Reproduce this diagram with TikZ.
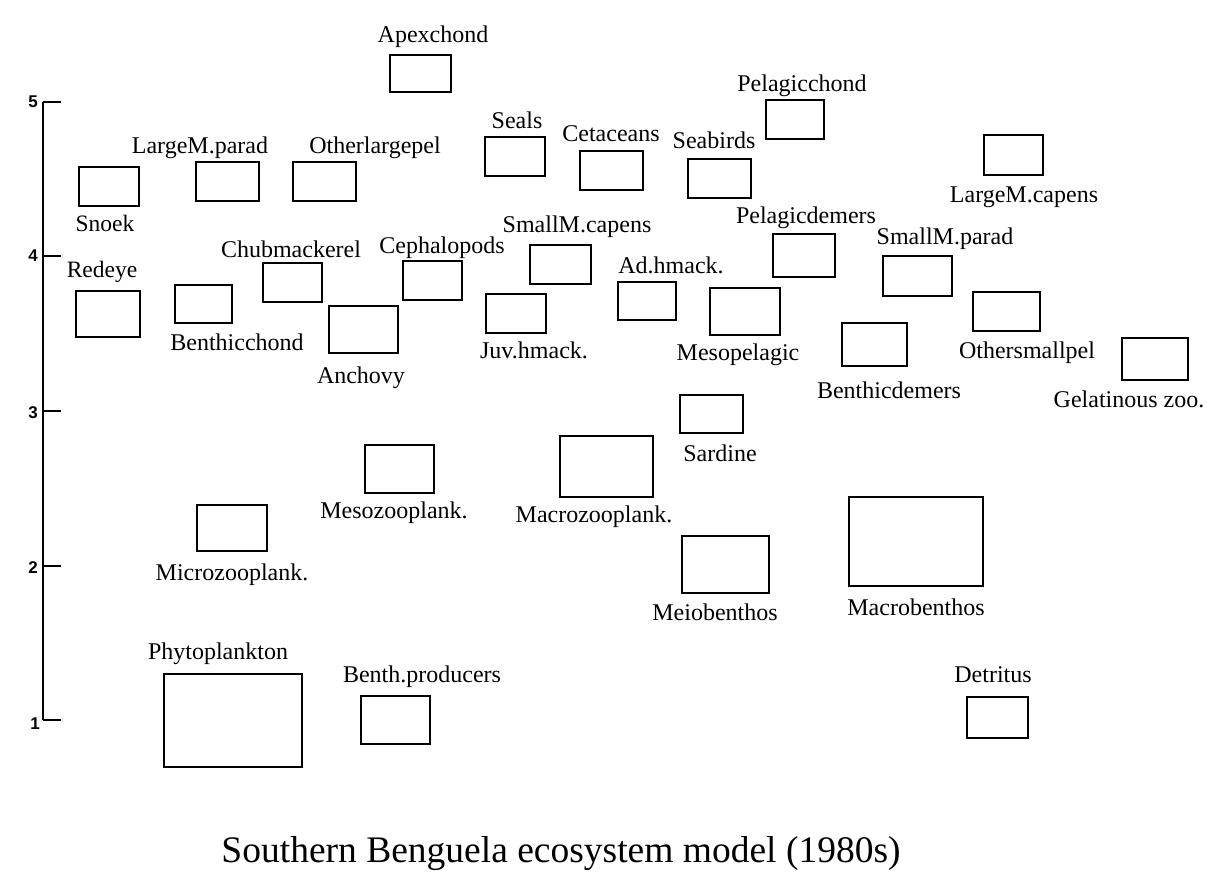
\documentclass[tikz,border=0pt]{standalone}
\usepackage{fontspec}
\setmainfont{Liberation Serif}
\newfontfamily\lsans{Liberation Sans}
\begin{document}
\begin{tikzpicture}[x=1pt,y=-1pt,
  bx/.style={draw, line width=1.8pt, inner sep=0pt},
  lbl/.style={anchor=base, inner sep=0pt, font=\fontsize{24}{28}\selectfont},
  slbl/.style={anchor=base, inner sep=0pt, font=\fontsize{23.5}{28}\selectfont},
  axisline/.style={line width=2.8pt},
  ticknum/.style={anchor=center, inner sep=0pt, font=\lsans\bfseries\fontsize{17}{19}\selectfont},
  title/.style={anchor=base, inner sep=0pt, font=\fontsize{37.5}{42}\selectfont}]
\useasboundingbox (0,0) rectangle (1207,875);
% axis
\coordinate (t5) at (43,102);
\coordinate (t4) at (43,256);
\coordinate (t3) at (43,411);
\coordinate (t2) at (43,566);
\coordinate (t1) at (43,720);
\coordinate (e5) at (61,102);
\coordinate (e4) at (61,256);
\coordinate (e3) at (61,411);
\coordinate (e2) at (61,566);
\coordinate (e1) at (61,720);
\draw[axisline] (t5) -- (t1);
\draw[axisline] (t5) -- (e5);
\draw[axisline] (t4) -- (e4);
\draw[axisline] (t3) -- (e3);
\draw[axisline] (t2) -- (e2);
\draw[axisline] (t1) -- (e1);
\node[ticknum] (n5) at (33,102) {5};
\node[ticknum] (n4) at (33,256) {4};
\node[ticknum] (n3) at (33,413) {3};
\node[ticknum] (n2) at (33,568) {2};
\node[ticknum] (n1) at (35,724) {1};
% boxes and labels
\node[bx, minimum width=61pt, minimum height=37pt] (apex) at (420.5,73.5) {};
\node[lbl] (apexl) at (433,43) {Apexchond};
\node[bx, minimum width=60pt, minimum height=39pt] (snoek) at (109,186.5) {};
\node[slbl] (snoekl) at (105,231) {Snoek};
\node[bx, minimum width=63pt, minimum height=39pt] (lmp) at (227.5,181.5) {};
\node[lbl] (lmpl) at (200,153) {LargeM.parad};
\node[bx, minimum width=63pt, minimum height=39pt] (olp) at (324.5,181.5) {};
\node[lbl] (olpl) at (375,153) {Otherlargepel};
\node[bx, minimum width=60pt, minimum height=39pt] (seals) at (515,156.5) {};
\node[lbl] (sealsl) at (517,128) {Seals};
\node[bx, minimum width=63pt, minimum height=39pt] (ceta) at (611.5,170.5) {};
\node[lbl] (cetal) at (611,141) {Cetaceans};
\node[bx, minimum width=63pt, minimum height=39pt] (seab) at (719.5,178.5) {};
\node[lbl] (seabl) at (714,148) {Seabirds};
\node[bx, minimum width=58pt, minimum height=39pt] (pch) at (795,119.5) {};
\node[lbl] (pchl) at (802,91) {Pelagicchond};
\node[bx, minimum width=59pt, minimum height=40pt] (lmc) at (1013.5,155) {};
\node[lbl] (lmcl) at (1024,202) {LargeM.capens};
\node[bx, minimum width=69pt, minimum height=40pt] (smp) at (917.5,276) {};
\node[lbl] (smpl) at (945,244) {SmallM.parad};
\node[bx, minimum width=62pt, minimum height=43pt] (pdem) at (804,255.5) {};
\node[lbl] (pdeml) at (806,223) {Pelagicdemers};
\node[bx, minimum width=61pt, minimum height=39pt] (smc) at (560.5,264.5) {};
\node[lbl] (smcl) at (577,232) {SmallM.capens};
\node[bx, minimum width=59pt, minimum height=39pt] (ceph) at (432.5,280.5) {};
\node[lbl] (cephl) at (442,253) {Cephalopods};
\node[bx, minimum width=59pt, minimum height=39pt] (chub) at (292.5,282.5) {};
\node[lbl] (chubl) at (291,257) {Chubmackerel};
\node[bx, minimum width=64pt, minimum height=46pt] (red) at (108,314) {};
\node[slbl] (redl) at (102,277) {Redeye};
\node[bx, minimum width=57pt, minimum height=38pt] (bch) at (203.5,304) {};
\node[lbl] (bchl) at (237,350) {Benthicchond};
\node[bx, minimum width=69pt, minimum height=47pt] (anch) at (363.5,329.5) {};
\node[lbl] (anchl) at (361,383) {Anchovy};
\node[bx, minimum width=60pt, minimum height=39pt] (juv) at (516,313.5) {};
\node[lbl] (juvl) at (534,358) {Juv.hmack.};
\node[bx, minimum width=58pt, minimum height=38pt] (adh) at (647,301) {};
\node[lbl] (adhl) at (671,273) {Ad.hmack.};
\node[bx, minimum width=70pt, minimum height=47pt] (meso) at (745,311.5) {};
\node[lbl] (mesol) at (738,360) {Mesopelagic};
\node[bx, minimum width=65pt, minimum height=43pt] (bdem) at (874.5,344.5) {};
\node[lbl] (bdeml) at (889,398) {Benthicdemers};
\node[bx, minimum width=67pt, minimum height=39pt] (osp) at (1006.5,311.5) {};
\node[lbl] (ospl) at (1027,358) {Othersmallpel};
\node[bx, minimum width=66pt, minimum height=42pt] (gel) at (1155,359) {};
\node[lbl] (gell) at (1129,407) {Gelatinous zoo.};
\node[bx, minimum width=63pt, minimum height=38pt] (sard) at (711.5,414) {};
\node[lbl] (sardl) at (720,461) {Sardine};
\node[bx, minimum width=69pt, minimum height=48pt] (mesoz) at (399.5,469) {};
\node[lbl] (mesozl) at (394,518) {Mesozooplank.};
\node[bx, minimum width=93pt, minimum height=61pt] (macz) at (606.5,466.5) {};
\node[lbl] (maczl) at (594,522) {Macrozooplank.};
\node[bx, minimum width=70pt, minimum height=46pt] (micz) at (232,528) {};
\node[lbl] (miczl) at (232,580) {Microzooplank.};
\node[bx, minimum width=87pt, minimum height=57pt] (meio) at (725.5,564.5) {};
\node[lbl] (meiol) at (715,620) {Meiobenthos};
\node[bx, minimum width=134pt, minimum height=89pt] (macb) at (916,541.5) {};
\node[lbl] (macbl) at (916,615) {Macrobenthos};
\node[bx, minimum width=138pt, minimum height=93pt] (phyto) at (233,720.5) {};
\node[lbl] (phytol) at (218,659) {Phytoplankton};
\node[bx, minimum width=69pt, minimum height=48pt] (bprod) at (395.5,720) {};
\node[lbl] (bprodl) at (422,682) {Benth.producers};
\node[bx, minimum width=61pt, minimum height=41pt] (det) at (997.5,717.5) {};
\node[lbl] (detl) at (993,682) {Detritus};
% title
\node[title] (ttl) at (561,862) {Southern Benguela ecosystem model (1980s)};
\end{tikzpicture}
\end{document}
